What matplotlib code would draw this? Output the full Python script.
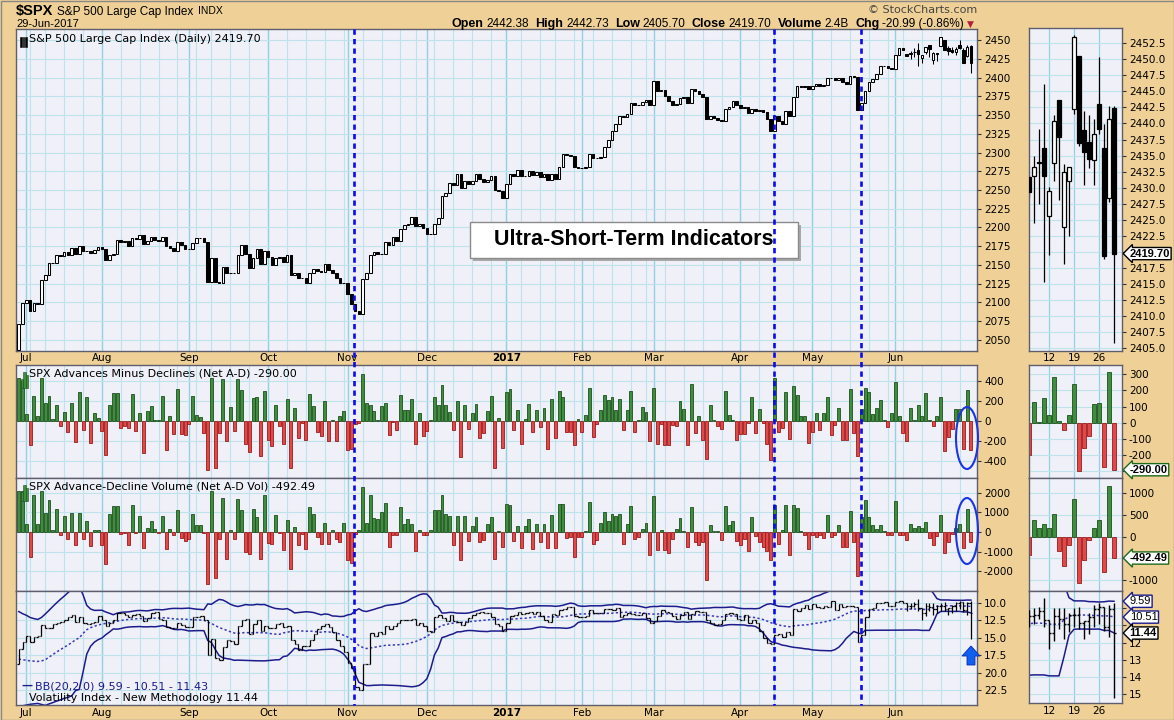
import numpy as np
import pandas as pd
import matplotlib
matplotlib.use('Agg')
import matplotlib.pyplot as plt
from matplotlib.patches import Rectangle, Ellipse, Polygon
from matplotlib.lines import Line2D

plt.rcParams['axes.unicode_minus'] = False

# ---- data ----
holidays = ['2016-07-04', '2016-09-05', '2016-11-24', '2016-12-26', '2017-01-02',
            '2017-01-16', '2017-02-20', '2017-04-14', '2017-05-29']

spx_close = [
    2070.77, 2098.86,
    2102.95, 2088.55, 2099.73, 2097.90, 2129.90, 2137.16, 2152.14, 2152.43, 2163.75, 2161.74,
    2166.89, 2163.78, 2173.02, 2165.17, 2175.03, 2168.48, 2169.18, 2166.58, 2170.06, 2173.60,
    2170.84, 2157.03, 2163.79, 2164.25, 2182.87, 2180.89, 2181.74, 2175.49, 2185.79, 2184.05,
    2190.15, 2178.15, 2182.22, 2187.02, 2183.87, 2182.64, 2186.90, 2175.44, 2172.47, 2169.04,
    2180.38, 2176.12, 2170.95,
    2170.86, 2179.98, 2186.48, 2186.16, 2181.30, 2127.81, 2159.04, 2127.02, 2125.77, 2147.26,
    2139.16, 2139.12, 2139.76, 2163.12, 2177.18, 2164.69, 2146.10, 2159.93, 2171.37, 2151.13, 2168.27,
    2161.20, 2150.49, 2159.73, 2160.77, 2153.74, 2163.66, 2136.73, 2139.18, 2132.55, 2132.98,
    2126.50, 2139.60, 2144.29, 2141.34, 2141.16, 2151.33, 2143.16, 2139.43, 2133.04, 2126.41, 2126.15,
    2111.72, 2097.94, 2088.66, 2085.18, 2131.52, 2139.56, 2163.26, 2167.48, 2164.45, 2164.20,
    2180.39, 2176.94, 2187.12, 2181.90, 2198.18, 2202.94, 2204.72, 2213.35, 2201.72, 2204.66, 2198.81,
    2191.08, 2191.95, 2204.71, 2212.23, 2241.35, 2246.19, 2259.53, 2256.96, 2271.72, 2253.28,
    2262.03, 2258.07, 2262.53, 2270.76, 2265.18, 2260.96, 2263.79, 2268.88, 2249.92, 2249.26, 2238.83,
    2257.83, 2270.75, 2269.00, 2276.98, 2268.90, 2268.90, 2275.32, 2270.44, 2274.64, 2267.89,
    2271.89, 2263.69, 2271.31, 2265.20, 2280.07, 2298.37, 2296.68, 2294.69, 2280.90, 2278.87,
    2279.55, 2280.85, 2297.42, 2292.56, 2293.08, 2294.67, 2307.87, 2316.10, 2328.25, 2337.58,
    2349.25, 2347.22, 2351.16, 2365.38, 2362.82, 2363.81, 2367.34, 2369.75, 2363.64,
    2395.96, 2381.92, 2383.12, 2375.31, 2368.39, 2362.98, 2364.87, 2372.60, 2373.47, 2365.45,
    2385.26, 2381.38, 2378.25, 2373.47, 2344.02, 2348.45, 2345.96, 2343.98, 2341.59, 2358.57,
    2361.13, 2368.06, 2362.72,
    2358.84, 2360.16, 2352.95, 2357.49, 2355.54, 2357.16, 2353.78, 2344.93, 2328.95, 2349.01,
    2342.19, 2338.17, 2355.84, 2348.69, 2374.15, 2388.61, 2387.45, 2388.77, 2384.20,
    2388.33, 2391.17, 2388.13, 2389.52, 2399.29, 2399.38, 2396.92, 2399.63, 2394.44, 2390.90,
    2402.32, 2400.67, 2357.03, 2365.72, 2381.73, 2394.02, 2398.42, 2404.39, 2415.07, 2415.82,
    2412.91, 2411.80,
    2430.06, 2439.07, 2436.10, 2429.33, 2433.14, 2433.79, 2431.77, 2429.39, 2440.35, 2437.92,
    2432.46, 2433.15, 2453.46, 2437.03, 2435.61, 2434.50, 2438.30, 2439.07, 2419.38, 2440.69, 2419.70]
spx_first_open = 2036.09
# last 18 sessions (Jun 6 - Jun 29, 2017)
spx_open_recent = [2431.6, 2431.8, 2433.9, 2436.2, 2425.5, 2433.8, 2443.6, 2423.8, 2431.0,
                   2442.3, 2450.5, 2439.0, 2437.1, 2434.3, 2443.1, 2436.1, 2428.3, 2442.38]
spx_high_recent = [2432.0, 2435.0, 2439.2, 2446.1, 2430.1, 2441.3, 2443.6, 2433.7, 2432.9,
                   2453.8, 2450.5, 2442.0, 2441.3, 2440.7, 2450.3, 2439.9, 2442.8, 2442.73]
spx_low_recent = [2428.5, 2424.4, 2427.5, 2415.3, 2419.5, 2431.0, 2428.0, 2418.0, 2422.4,
                  2441.5, 2436.5, 2430.4, 2433.0, 2430.4, 2438.3, 2418.9, 2427.7, 2405.70]

net_ad = [
    430, 400, 70, -235, 250, 50, 430, 180, 245, 20, 160, -50, 90, -110, 180, -210, 290, -90, 235, -215,
    80, 30, -100, -335, 160, 280, 275, -70, -50, -65, 270, -100, 80, -315, 100, 145, 5, 5, 250, -290,
    50, -130, 320, -125, -135, -30, 245, 60, 40, -115, -485, 430, -470, -115, 420, -200, 135, -100, 420, 310,
    -230, -310, 230,
    235, -345, 300, -190, -245, 155, -50, -230, 220, -465, 125, -170, -20, -190, 270, 145, -110, -145, 200, -200,
    5, -200, 50, 100, -290, -280, -25, -15,
    465, 180, 155, 100, 5, 145, 180, -135, -5, -90, 260, 110, 110, 220, -230, 80, -150, -100, 5, 235,
    155, 360, 155, 90, -90, 200, -360, 155, -80, 80, 170, -165, -115, 95, 245,
    -465, 25, -270, 285, 320, -90, 105, -230, 15, 165, -110, 105, -60, 130, -280, 220, -165, 300, 235, -105,
    -105, -235, 15, -105, 55, 330, -155, -25, 105, 260, 205, 235, 105, 215, -90, 105, 300, -110, 5, 135,
    90, -200, 330, -230, -25, -240, -240, -35, -50, 200, 120, -240, 370, -120, 45, -190, -380, 155, 5, -50,
    -80, 300, 60, 5,
    -190, -130, -125, -20, 235, -115, 115, -15, -230, -385, 430, -105, -65, 285, -180, 350, 255, 50, 50, -215,
    -105, 75, -90, 80, 235, -135, -35, 130, -190, -190, 315, -115, -345, 120, 330, 285, 70, 130, 210, 5,
    -55, 75, 385, 50, -120,
    -200, 125, 5, 155, 45, 280, 10, -45, 45, 240, -300, -155, -80, 115, 120, -275, 310, -290]

net_ad_vol = [
    2060, 2060, 390, -1270, 1860, 420, 2060, 980, 1600, 100, 1180, -170, 810, -340, 980, -680, 980, -340, 540, -730,
    100, 100, -640, -1640, 930, 1320, 1320, -85, -30, -680, 1350, -30, 810, -810, 200, 540, 170, -30, 810, -850,
    170, -135, 1100, -300, -440, -340, 930, 370, 340, -30, -2650, 2060, -2330, -340, 1720, -1350, 85, -340, 1650, 1100,
    -1010, -1100, 1180,
    760, -1380, 1870, -560, -620, 840, -30, -900, 600, -1860, 250, -680, -100, -850, 1250, 900, -270, -600, 430, -600,
    100, -380, -500, 450, -1400, -1600, -100, 100,
    2300, 430, 1900, 720, 680, 1000, 1450, -780, -140, -170, 1270, 380, 640, 400, -980, 80, -140, -140, 80, 1100,
    1100, 1900, 930, 810, -680, 810, -1450, 810, -480, 310, 770, -510, -390, 380, 770,
    -1360, 60, -770, 1420, 1360, -460, 310, -820, 310, 650, -880, 420, -510, 390, -820, 850, -820, 1420, 1420, -310,
    -260, -1250, -260, -260, 50, 1520, -630, -430, 430, 1010, 540, 900, 810, 900, -590, 390, 1320, -340, -260, 170,
    460, -1190, 1830, -900, 80, -900, -1070, -340, 170, 710, 50, -770, 1250, -510, -680, -510, -2420, 340, 30, 30,
    -430, 1320, 340, 540,
    -480, -680, -340, -990, 770, -200, -510, -770, -990, -1450, 1360, -590, 100, 1390, -1190, 1390, 1220, 30, -140, -880,
    -170, -260, -170, -300, 880, -260, -140, 340, -770, -770, 1060, -510, -2250, 770, 1610, 770, 340, 170, 340, 30,
    -140, -170, 1560, -140, -170,
    -420, 380, 190, 290, 210, 530, -320, -670, -190, 870, -1080, -530, -80, 190, 395, -820, 1170, -492.49]

# VIX closes: 19 sessions before the window (for the 20-day bands), then the window itself
vix_prior = [13.63, 13.47, 13.65, 14.05, 14.08, 14.64, 17.03, 20.97, 20.50, 20.14,
             19.37, 19.41, 18.37, 18.48, 21.17, 17.25, 25.76, 23.85, 18.75]
vix_close = [
    16.64, 15.63,
    14.77, 15.58, 14.96, 14.76, 13.20, 13.54, 13.55, 13.04, 12.82, 12.67, 12.44, 11.97, 11.77, 12.74,
    12.02, 12.87, 13.05, 12.83, 12.72, 11.87,
    12.44, 13.37, 12.86, 12.42, 11.39, 11.50, 11.66, 12.05, 11.68, 11.55, 11.81, 12.64, 12.19, 11.43,
    11.34, 12.27, 12.38, 13.45, 13.63, 13.65, 12.94, 13.12, 13.42,
    13.48, 11.98, 12.02, 11.94, 12.51, 17.50, 15.16, 17.85, 18.14, 16.30, 15.37, 15.53, 15.92, 13.30,
    12.45, 12.29, 14.50, 12.96, 12.39, 14.02, 13.29,
    13.57, 13.63, 12.99, 12.84, 13.48, 13.38, 15.36, 15.91, 16.69, 16.12, 16.21, 15.28, 14.41, 13.75,
    13.34, 13.02, 13.46, 14.24, 15.36, 16.19, 17.06,
    18.56, 19.32, 22.08, 22.51, 18.71, 18.74, 14.38, 14.74, 14.17, 14.48, 13.37, 13.72, 13.35, 12.85,
    12.42, 12.41, 12.43, 12.34, 13.15, 12.90, 13.33,
    14.07, 14.12, 11.97, 11.79, 12.22, 12.64, 11.75, 12.64, 12.72, 13.19, 12.79, 12.20, 11.71, 11.45,
    11.27, 11.43, 11.44, 11.99, 12.95, 13.37, 14.04,
    12.85, 11.85, 11.67, 11.32, 11.56, 11.49, 11.26, 11.54, 11.23, 11.87, 12.48, 12.78, 11.54, 11.77,
    11.07, 10.81, 10.63, 10.58, 11.88, 11.99,
    12.04, 11.93, 10.97, 11.37, 11.45, 11.45, 10.88, 10.85, 11.07, 10.74, 11.97, 11.76, 11.49, 11.57,
    11.74, 11.71, 11.47, 12.09, 12.92,
    12.54, 11.81, 10.96, 11.24, 11.45, 11.86, 12.30, 11.66, 11.35, 12.30, 11.63, 11.21, 11.28, 11.34,
    12.47, 12.81, 13.12, 12.96, 12.50, 11.53, 11.42, 11.54, 12.37,
    12.38, 11.79, 12.89, 12.39, 12.87, 14.05, 15.07, 15.77, 15.96, 14.66, 14.42, 14.93, 14.15, 14.63,
    10.84, 11.10, 10.76, 10.36, 10.82,
    10.11, 10.59, 10.68, 10.46, 10.57, 9.77, 10.96, 10.21, 10.60, 10.40, 10.42, 10.65, 15.59, 14.66,
    12.04, 10.93, 10.72, 10.02, 9.99, 9.81, 10.38, 10.41,
    9.89, 9.75, 10.07, 10.45, 10.39, 10.16, 10.70, 11.46, 10.42, 10.64, 10.90, 10.38, 10.37, 10.86,
    10.75, 10.48, 10.02, 9.90, 11.06, 10.03, 11.44]
vix_low_recent = [10.3, 10.0, 9.9, 9.4, 11.2, 10.0, 10.0, 10.0, 10.3, 10.0, 9.9, 10.8, 10.3, 9.8, 9.7, 9.9, 9.8, 9.7]
vix_high_recent = [11.1, 10.9, 10.6, 11.1, 12.4, 11.9, 11.2, 11.8, 11.4, 11.1, 11.2, 11.8, 11.5, 11.1, 10.9, 11.3, 11.7, 15.2]

# hand-drawn annotation lines (in bar units)
marker_pos = [88.7, 199.8, 222.8]

# ---- derived series ----
dates = pd.bdate_range('2016-06-29', '2017-06-29')
dates = dates[~dates.isin(pd.to_datetime(holidays))]
n = len(dates)
x = np.arange(n)
nr = len(spx_open_recent)

c = np.array(spx_close)
o = np.r_[spx_first_open, c[:-1]]
o[-nr:] = spx_open_recent
hi = np.maximum(o, c)
lo = np.minimum(o, c)
hi[-nr:] = np.maximum(hi[-nr:], spx_high_recent)
lo[-nr:] = np.minimum(lo[-nr:], spx_low_recent)

ad = np.array(net_ad, dtype=float)
adv = np.array(net_ad_vol, dtype=float)

vc = np.array(vix_close)
vo = np.r_[vix_prior[-1], vc[:-1]]
vhi = np.maximum(vo, vc)
vlo = np.minimum(vo, vc)
vhi[-nr:] = np.maximum(vhi[-nr:], vix_high_recent)
vlo[-nr:] = np.minimum(vlo[-nr:], vix_low_recent)

vs = pd.Series(vix_prior + vix_close)
bb_mid = vs.rolling(20).mean().values[-n:]
bb_sd = vs.rolling(20).std(ddof=0).values[-n:]
bb_up = bb_mid + 2 * bb_sd
bb_dn = bb_mid - 2 * bb_sd

month_idx = [i for i in range(1, n) if dates[i].month != dates[i - 1].month]
month_lab = ['2017' if dates[i].month == 1 else dates[i].strftime('%b') for i in month_idx]
week_idx = [i for i in range(1, n) if dates[i].weekday() < dates[i - 1].weekday()]

# ---- style ----
TAN = '#EFD197'
PANEL = '#F0F0F8'
GRID = '#BFE3EC'
GRID_M = '#93D1E2'
GREEN, GREEN_E = '#3E8E3E', '#1D4F1D'
RED, RED_E = '#E24848', '#9A1A1A'
NAVY = '#1C1C8C'
BLUE = '#0A0AF0'
ARIAL = 'Liberation Sans'

W, H = 1174, 720
fig = plt.figure(figsize=(W / 100, H / 100), dpi=100)
fig.patch.set_facecolor(TAN)


def mk(x0, y0, x1, y1):
    ax = fig.add_axes([x0 / W, 1 - y1 / H, (x1 - x0) / W, (y1 - y0) / H])
    ax.set_facecolor(PANEL)
    for s in ax.spines.values():
        s.set_color('#5E5E6E')
        s.set_linewidth(1.0)
    ax.yaxis.tick_right()
    ax.tick_params(axis='y', labelsize=7.5, length=3, width=0.8, color='#333333', pad=2)
    ax.tick_params(axis='x', length=0, labelsize=7.5, pad=2)
    return ax


XL = (-0.74, n - 1 + 1.6)
XR = (n - 1 - 17, n - 1 + 1.6)

ax_p = mk(16, 29, 977, 351)
ax_a = mk(16, 365, 977, 478)
ax_v = mk(16, 478, 977, 591)
ax_x = mk(16, 591, 977, 705)
rx_p = mk(1029, 28, 1122, 351)
rx_a = mk(1029, 365, 1122, 478)
rx_v = mk(1029, 478, 1122, 591)
rx_x = mk(1029, 591, 1122, 703)

for ax in (ax_p, ax_a, ax_v, ax_x):
    ax.set_xlim(*XL)
    for i in week_idx:
        ax.axvline(i, color=GRID, lw=0.8, zorder=0)
    for i in month_idx:
        ax.axvline(i, color=GRID_M, lw=1.0, zorder=0)
    ax.set_xticks(month_idx)
    ax.set_xticklabels([])
for ax in (rx_p, rx_a, rx_v, rx_x):
    ax.set_xlim(*XR)
    rw = [i for i in week_idx if i > XR[0]]
    for i in rw:
        ax.axvline(i, color=GRID_M, lw=0.9, zorder=0)
    ax.set_xticks(rw)
    ax.set_xticklabels([])

for ax in (ax_p, ax_x):
    ax.set_xticklabels(month_lab)
    for t in ax.get_xticklabels():
        if t.get_text() == '2017':
            t.set_fontweight('bold')
ax_p.tick_params(axis='x', pad=1.5)
for ax in (rx_p, rx_x):
    ax.set_xticklabels([str(dates[i].day) for i in ax.get_xticks().astype(int)])
rx_p.tick_params(axis='x', pad=1.5)


def hgrid(ax, ticks, labels=None):
    ax.set_yticks(ticks)
    if labels is not None:
        ax.set_yticklabels(labels)
    for t in ticks:
        ax.axhline(t, color=GRID, lw=0.8, zorder=0)


def candles(ax, w, lw):
    up = c >= o
    ax.vlines(x, lo, hi, color='black', lw=lw, zorder=2)
    bl = np.minimum(o, c)
    bh = np.maximum(np.abs(c - o), 0.15)
    ax.bar(x[up], bh[up], w, bl[up], facecolor='white', edgecolor='black', lw=lw, zorder=3)
    ax.bar(x[~up], bh[~up], w, bl[~up], facecolor='black', edgecolor='black', lw=lw, zorder=3)


def hist(ax, v, w):
    pos = v >= 0
    ax.bar(x, v, w, color=np.where(pos, GREEN, RED), edgecolor=np.where(pos, GREEN_E, RED_E),
           lw=0.6, zorder=2)


def vixbars(ax, tk, lw):
    ax.vlines(x, vlo, vhi, color='black', lw=lw, zorder=3)
    ax.hlines(vo, x - tk, x, color='black', lw=lw, zorder=3)
    ax.hlines(vc, x, x + tk, color='black', lw=lw, zorder=3)
    ax.plot(x, bb_up, color=NAVY, lw=1.1, zorder=2)
    ax.plot(x, bb_dn, color=NAVY, lw=1.1, zorder=2)
    ax.plot(x, bb_mid, color='#3A3AB8', lw=1.1, ls=(0, (1.5, 1.5)), zorder=2)


# price
candles(ax_p, 0.7, 0.75)
ax_p.set_ylim(2035.3, 2464.7)
hgrid(ax_p, np.arange(2050, 2451, 25))
candles(rx_p, 0.8, 0.9)
rx_p.set_ylim(2404.5, 2454.9)
rticks = np.arange(2405, 2453, 2.5)
hgrid(rx_p, rticks, ['' if abs(v - 2420) < 1 else '%.1f' % v for v in rticks])

# net A-D
hist(ax_a, ad, 0.78)
ax_a.set_ylim(-565, 555)
hgrid(ax_a, [-400, -200, 0, 200, 400])
hist(rx_a, ad, 0.85)
rx_a.set_ylim(-341, 356)
hgrid(rx_a, [-300, -200, -100, 0, 100, 200, 300], ['', '-200', '-100', '0', '100', '200', '300'])

# net A-D volume
hist(ax_v, adv, 0.78)
ax_v.set_ylim(-3000, 2740)
hgrid(ax_v, [-2000, -1000, 0, 1000, 2000])
hist(rx_v, adv, 0.85)
rx_v.set_ylim(-1254, 1356)
hgrid(rx_v, [-1000, -500, 0, 500, 1000], ['-1000', '', '0', '500', '1000'])

# VIX with Bollinger bands (inverted axis)
vixbars(ax_x, 0.4, 0.9)
ax_x.set_ylim(24.66, 8.28)
hgrid(ax_x, [10, 12.5, 15, 17.5, 20, 22.5], ['10.0', '12.5', '15.0', '17.5', '20.0', '22.5'])
vixbars(rx_x, 0.4, 1.0)
rx_x.set_ylim(15.52, 8.99)
hgrid(rx_x, [10, 11, 12, 13, 14, 15], ['', '', '12', '13', '14', '15'])


def tag(ax, y, s, ec, bold=True):
    ax.annotate(s, xy=(1, y), xycoords=ax.get_yaxis_transform(), xytext=(5.5, 0),
                textcoords='offset points', ha='left', va='center', fontsize=8, family=ARIAL,
                fontweight='bold' if bold else 'normal',
                bbox=dict(boxstyle='larrow,pad=0.1', fc='white', ec=ec, lw=1.0),
                annotation_clip=False, zorder=10)


tag(rx_p, c[-1], '%.2f' % c[-1], 'black')
tag(rx_a, ad[-1], '%.2f' % ad[-1], '#1D6A1D')
tag(rx_v, adv[-1], '%.2f' % adv[-1], '#1D6A1D')
tag(rx_x, bb_dn[-1], '%.2f' % bb_dn[-1], NAVY, bold=False)
tag(rx_x, bb_mid[-1], '%.2f' % bb_mid[-1], NAVY, bold=False)
tag(rx_x, vc[-1], '%.2f' % vc[-1], 'black')

# panel legends
ax_p.text(0.014, 0.985, 'S&P 500 Large Cap Index (Daily) %.2f' % c[-1], transform=ax_p.transAxes,
          fontsize=8, va='top', ha='left', zorder=5)
ax_a.text(0.014, 0.965, 'SPX Advances Minus Declines (Net A-D) %.2f' % ad[-1], transform=ax_a.transAxes,
          fontsize=8, va='top', ha='left', zorder=5)
ax_v.text(0.014, 0.965, 'SPX Advance-Decline Volume (Net A-D Vol) %.2f' % adv[-1], transform=ax_v.transAxes,
          fontsize=8, va='top', ha='left', zorder=5)
ax_x.text(0.006, 0.165, '\u2014', transform=ax_x.transAxes, fontsize=8, color=NAVY, fontweight='bold',
          va='center', ha='left', zorder=5)
ax_x.text(0.02, 0.165, 'BB(20,2.0) %.2f - %.2f - %.2f' % (bb_dn[-1], bb_mid[-1], bb_up[-1]),
          transform=ax_x.transAxes, fontsize=8, color=NAVY, va='center', ha='left', zorder=5)
ax_x.text(0.014, 0.06, 'Volatility Index - New Methodology %.2f' % vc[-1], transform=ax_x.transAxes,
          fontsize=8, va='center', ha='left', zorder=5)
# small legend icons
for ax, y0 in ((ax_a, 0.80), (ax_v, 0.80)):
    for k, hh in enumerate((0.08, 0.14, 0.11)):
        ax.add_patch(Rectangle((0.005 + k * 0.0028, y0), 0.0022, hh, transform=ax.transAxes,
                               fc=GREEN, ec=GREEN_E, lw=0.4, zorder=5))
for k in range(3):
    ax_p.add_patch(Rectangle((0.004 + k * 0.0028, 0.945), 0.0018, 0.03, transform=ax_p.transAxes,
                             fc='black', ec='black', lw=0.4, zorder=5))

# header
rend = fig.canvas.get_renderer()
t1 = fig.text(16 / W, 1 - 11.5 / H, '$SPX', fontsize=10.5, fontweight='bold', family=ARIAL,
              va='center', ha='left')
xx = 16 + t1.get_window_extent(rend).width + 4
t2 = fig.text(xx / W, 1 - 11.5 / H, 'S&P 500 Large Cap Index', fontsize=8.5, family=ARIAL,
              va='center', ha='left')
xx += t2.get_window_extent(rend).width + 4
fig.text(xx / W, 1 - 11.5 / H, 'INDX', fontsize=7.5, family=ARIAL, va='center', ha='left')
fig.text(16 / W, 1 - 24 / H, '29-Jun-2017', fontsize=8, family=ARIAL, va='center', ha='left')
fig.text(977 / W, 1 - 10 / H, '\u00a9 StockCharts.com', fontsize=8, color='#444444',
         va='center', ha='right')

parts = [('Open', True), ('2442.38', False), ('High', True), ('2442.73', False), ('Low', True),
         ('2405.70', False), ('Close', True), ('2419.70', False), ('Volume', True), ('2.4B', False),
         ('Chg', True), ('-20.99 (-0.86%)', False)]
arts, widths = [], []
for s, b in parts:
    t = fig.text(0, 1 - 24 / H, s, fontsize=9 if b else 8.5, fontweight='bold' if b else 'normal',
                 family=ARIAL, va='center', ha='left')
    arts.append(t)
    widths.append(t.get_window_extent(rend).width)
gaps = [3 if b else 6 for s, b in parts]
total = sum(widths) + sum(gaps[:-1])
xx = 964 - total
for t, w_, g in zip(arts, widths, gaps):
    t.set_x(xx / W)
    xx += w_ + g
fig.text(967 / W, 1 - 24 / H, '\u25bc', fontsize=6.5, color='#B0203A', va='center', ha='left')

# title box
fig.add_artist(Rectangle((473 / W, 1 - 261 / H), 328 / W, 36 / H, transform=fig.transFigure,
                         fc='#A8A8A8', ec='none', zorder=6))
fig.add_artist(Rectangle((470 / W, 1 - 258 / H), 328 / W, 36 / H, transform=fig.transFigure,
                         fc='white', ec='#8A8A8A', lw=1, zorder=7))
fig.text(634 / W, 1 - 240 / H, 'Ultra-Short-Term Indicators', fontsize=15.5, fontweight='bold',
         family=ARIAL, ha='center', va='center', zorder=8)

# annotations: dashed verticals, ellipses, arrow
fig.canvas.draw()
for m in marker_pos:
    fx = ax_p.transData.transform((m, 2200))[0] / fig.bbox.width
    fig.add_artist(Line2D([fx, fx], [1 - 29 / H, 1 - 705 / H], transform=fig.transFigure,
                          color=BLUE, lw=1.9, ls=(0, (2, 1.6)), zorder=9))
for cx, cy, ew, eh in ((967, 438, 22, 62), (967, 531, 22, 66)):
    fig.add_artist(Ellipse((cx / W, 1 - cy / H), ew / W, eh / H, transform=fig.transFigure,
                           fill=False, ec='#1A36E6', lw=1.5, zorder=9))
arrow_px = [(971, 646), (962, 656), (967, 656), (967, 665), (975, 665), (975, 656), (980, 656)]
fig.add_artist(Polygon([(px / W, 1 - py / H) for px, py in arrow_px], closed=True,
                       transform=fig.transFigure, fc='#1060F0', ec='#0A2AB0', lw=0.6, zorder=9))

fig.add_artist(Rectangle((0.5 / W, 0.5 / H), (W - 1) / W, (H - 1) / H, transform=fig.transFigure,
                         fill=False, ec='#888888', lw=1, zorder=10))

fig.savefig('out.png', dpi=100, facecolor=TAN)
